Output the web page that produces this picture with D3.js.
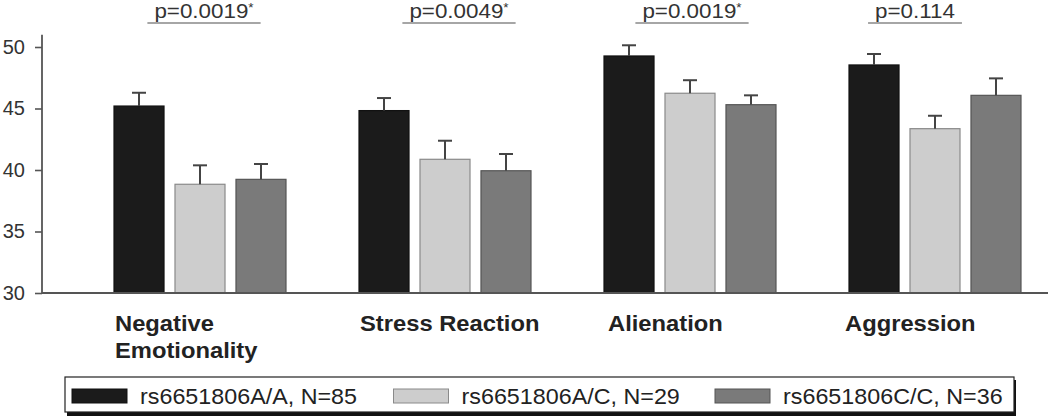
<!DOCTYPE html>
<html><head><meta charset="utf-8">
<script src="https://cdn.jsdelivr.net/npm/d3@7"></script>
<style>
html,body{margin:0;padding:0;background:#fff;}
svg{display:block;}
text{font-family:"Liberation Sans",Arial,sans-serif;}
</style></head>
<body>
<svg id="chart" width="1050" height="417"></svg>
<script>
// ---- data ----
const categories = ["Negative Emotionality", "Stress Reaction", "Alienation", "Aggression"];
const categoryLines = [["Negative", "Emotionality"], ["Stress Reaction"], ["Alienation"], ["Aggression"]];
const seriesNames = ["rs6651806A/A, N=85", "rs6651806A/C, N=29", "rs6651806C/C, N=36"];
const meansAA = [45.2, 44.83, 49.27, 48.54];
const meansAC = [38.84, 40.87, 46.24, 43.36];
const meansCC = [39.24, 39.94, 45.31, 46.07];
const semAA = [1.08, 1.02, 0.87, 0.89];
const semAC = [1.54, 1.51, 1.06, 1.05];
const semCC = [1.25, 1.36, 0.76, 1.38];
const pValues = ["p=0.0019", "p=0.0049", "p=0.0019", "p=0.114"];
const pStars = ["*", "*", "*", ""];
const yTicks = [30, 35, 40, 45, 50];

// ---- style / layout ----
const fills = ["#1b1b1b", "#cdcdcd", "#7a7a7a"];
const strokes = ["#111111", "#8a8a8a", "#555555"];
const pOffsets = [4, 14, 2, -20];

const svg = d3.select("#chart");
const means = [meansAA, meansAC, meansCC];
const sems = [semAA, semAC, semCC];

const y = d3.scaleLinear().domain([30, 51]).range([293, 34.7]);
const x0 = d3.scaleBand().domain(categories).range([77.5, 1057.5]).paddingInner(0.298).paddingOuter(0.149);
const x1 = d3.scaleBand().domain(seriesNames).range([0, x0.bandwidth()]).paddingInner(0.18);

// y axis
const yAxis = svg.append("g").attr("transform", "translate(42,0)")
  .call(d3.axisLeft(y).tickValues(yTicks).tickSize(7).tickPadding(10));
yAxis.select(".domain").remove();
yAxis.selectAll(".tick line").attr("stroke", "#555").attr("stroke-width", 1.6);
yAxis.selectAll(".tick text").attr("fill", "#333").style("font-size", "20px")
  .style("font-family", "'Liberation Sans',Arial,sans-serif");
svg.append("line").attr("x1", 42).attr("x2", 42).attr("y1", y(51)).attr("y2", y(30))
  .attr("stroke", "#555").attr("stroke-width", 1.8);

// bars
const rows = [];
categories.forEach((c, i) => seriesNames.forEach((s, j) => rows.push({c, s, j, v: means[j][i], e: sems[j][i]})));

const gBars = svg.append("g");
gBars.selectAll("rect").data(rows).join("rect")
  .attr("x", d => x0(d.c) + x1(d.s))
  .attr("y", d => y(d.v))
  .attr("width", x1.bandwidth())
  .attr("height", d => y(30) - y(d.v))
  .attr("fill", d => fills[d.j])
  .attr("stroke", d => strokes[d.j])
  .attr("stroke-width", 1.2);

// error bars
const gErr = svg.append("g").attr("stroke", "#444").attr("stroke-width", 2);
rows.forEach(d => {
  const cx = x0(d.c) + x1(d.s) + x1.bandwidth() / 2;
  gErr.append("line").attr("x1", cx).attr("x2", cx).attr("y1", y(d.v)).attr("y2", y(d.v + d.e));
  gErr.append("line").attr("x1", cx - 7).attr("x2", cx + 7).attr("y1", y(d.v + d.e)).attr("y2", y(d.v + d.e));
});

// x axis line
svg.append("line").attr("x1", 42).attr("x2", 1048).attr("y1", y(30)).attr("y2", y(30))
  .attr("stroke", "#555").attr("stroke-width", 1.8);

// category labels
categories.forEach((c, i) => {
  categoryLines[i].forEach((ln, k) => {
    svg.append("text")
      .attr("transform", `translate(${x0(c) + (i === 3 ? -4 : i === 2 ? 4 : 1)},${331 + k * 27}) scale(1.08,1)`)
      .attr("fill", "#222").style("font-size", "22px").style("font-weight", "bold")
      .text(ln);
  });
});

// p-value labels
categories.forEach((c, i) => {
  const cx = x0(c) + x0.bandwidth() / 2 + pOffsets[i];
  const t = svg.append("text")
    .attr("transform", `translate(${cx},18) scale(1.12,1)`)
    .attr("text-anchor", "middle").attr("fill", "#333").style("font-size", "20px");
  t.append("tspan").text(pValues[i]);
  if (pStars[i]) t.append("tspan").attr("dy", -6).style("font-size", "12px").text(pStars[i]);
  const w = t.node().getComputedTextLength() * 1.12;
  svg.append("line").attr("x1", cx - w / 2 - 7).attr("x2", cx + w / 2 + 7)
    .attr("y1", 23).attr("y2", 23).attr("stroke", "#888").attr("stroke-width", 1.5);
});

// legend
const lg = svg.append("g");
lg.append("rect").attr("x", 67).attr("y", 380).attr("width", 949).attr("height", 36).attr("fill", "#111");
lg.append("rect").attr("x", 65).attr("y", 377).attr("width", 949).attr("height", 35)
  .attr("fill", "#fff").attr("stroke", "#222").attr("stroke-width", 1.2);
const lx = d3.scalePoint().domain(seriesNames).range([72, 715]);
seriesNames.forEach((s, j) => {
  lg.append("rect").attr("x", lx(s)).attr("y", 389).attr("width", 55).attr("height", 14)
    .attr("fill", fills[j]).attr("stroke", strokes[j]).attr("stroke-width", 1);
  lg.append("text").attr("transform", `translate(${lx(s) + 68},404) scale(1.06,1)`)
    .attr("fill", "#222").style("font-size", "22px").text(s);
});
</script>
</body></html>
